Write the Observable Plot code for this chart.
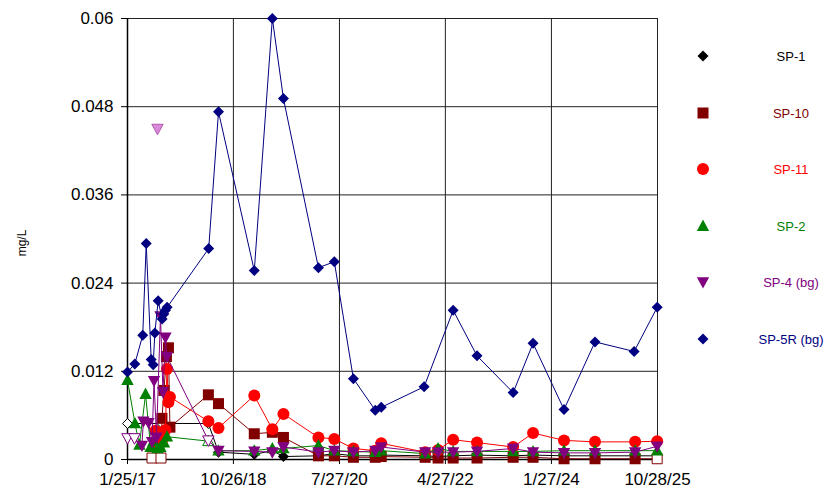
<!DOCTYPE html>
<html><head><meta charset="utf-8">
<script src="https://cdn.jsdelivr.net/npm/d3@7"></script>
<script src="https://cdn.jsdelivr.net/npm/@observablehq/plot@0.6"></script>
<style>
html,body{margin:0;padding:0;background:#fff;}
#wrap{position:relative;width:829px;height:489px;font-family:"Liberation Sans",Arial,sans-serif;overflow:hidden;}
#chart{position:absolute;left:0;top:0;}
.ylab{position:absolute;left:22px;top:243px;transform:translate(-50%,-50%) rotate(-90deg);font-size:12px;color:#000;}
.leg{position:absolute;font-size:13px;transform:translate(-50%,-50%);white-space:nowrap;}
.legm{position:absolute;width:20px;height:20px;transform:translate(-50%,-50%);}
</style></head><body>
<div id="wrap"><div id="chart"></div><div class="ylab">mg/L</div></div>
<script>
// ---------- data ----------
const seriesNames = ["SP-1","SP-10","SP-11","SP-2","SP-4 (bg)","SP-5R (bg)"];
const seriesColors = ["#000000","#800000","#FF0000","#008000","#800080","#000080"];

const xTicks = ["2017-01-25","2018-10-26","2020-07-27","2022-04-27","2024-01-27","2025-10-28"];
const yTicks = [0, 0.012, 0.024, 0.036, 0.048, 0.06];
const yTickLabels = ["0","0.012","0.024","0.036","0.048","0.06"];

const sp1Dates = ["2017-01-25","2017-08-21","2018-05-28","2018-07-28","2019-03-01","2019-06-18","2019-08-24","2020-03-22","2020-06-26","2020-10-19","2021-02-28","2021-04-05","2021-12-26","2022-03-14","2022-06-13","2022-11-04","2023-06-10","2023-10-08","2024-04-12","2024-10-16","2025-06-15","2025-10-26"];
const sp1Vals  = [0.0049,0.0049,0.0049,0.0010,0.0007,0.0012,0.0004,0.0005,0.0008,0.0005,0.0005,0.0006,0.0005,0.0004,0.0005,0.0006,0.0005,0.0006,0.0005,0.0005,0.0005,0.0005];
const sp1ND    = [1,1,1,0,0,0,0,0,0,0,0,0,0,0,0,0,0,0,0,0,0,0];

const sp10Dates = ["2017-06-22","2017-08-15","2017-08-21","2017-09-02","2017-09-17","2017-09-29","2017-10-08","2018-05-28","2018-07-28","2019-03-01","2019-06-18","2019-08-24","2020-03-22","2020-06-26","2020-10-19","2021-02-28","2021-04-05","2021-12-26","2022-03-14","2022-06-13","2022-11-04","2023-06-10","2023-10-08","2024-04-12","2024-10-16","2025-06-15","2025-10-26"];
const sp10Vals  = [0.0002,0.0002,0.0056,0.0094,0.0140,0.0152,0.0044,0.0088,0.0076,0.0035,0.0037,0.0030,0.0005,0.0005,0.0003,0.0003,0.0004,0.0003,0.0002,0.0002,0.0002,0.0003,0.0003,0.0001,0.0001,0.0001,0.0001];
const sp10ND    = [1,1,0,0,0,0,0,0,0,0,0,0,0,0,0,0,0,0,0,0,0,0,0,0,0,0,1];

const sp11Dates = ["2017-07-13","2017-07-31","2017-08-21","2017-09-11","2017-09-20","2017-09-29","2017-10-08","2018-05-28","2018-07-28","2019-03-01","2019-06-18","2019-08-24","2020-03-22","2020-06-26","2020-10-19","2021-02-28","2021-04-05","2021-12-26","2022-03-14","2022-06-13","2022-11-04","2023-06-10","2023-10-08","2024-04-12","2024-10-16","2025-06-15","2025-10-26"];
const sp11Vals  = [0.0039,0.0017,0.0026,0.0040,0.0123,0.0078,0.0085,0.0052,0.0043,0.0087,0.0041,0.0062,0.0030,0.0028,0.0015,0.0012,0.0022,0.0010,0.0013,0.0027,0.0023,0.0017,0.0036,0.0026,0.0024,0.0024,0.0025];
const sp11ND    = [0,0,0,0,0,0,0,0,0,0,0,0,0,0,0,0,0,0,0,0,0,0,0,0,0,0,0];

const sp2Dates = ["2017-01-25","2017-03-11","2017-04-07","2017-05-14","2017-06-13","2017-07-01","2017-07-25","2017-08-12","2017-09-02","2017-09-20","2018-05-28","2018-07-28","2019-03-01","2019-06-18","2019-08-24","2020-03-22","2020-06-26","2020-10-19","2021-02-28","2021-04-05","2021-12-26","2022-03-14","2022-06-13","2022-11-04","2023-06-10","2023-10-08","2024-04-12","2024-10-16","2025-06-15","2025-10-26"];
const sp2Vals  = [0.0108,0.0049,0.0020,0.0089,0.0017,0.0025,0.0015,0.0017,0.0023,0.0031,0.0025,0.0012,0.0012,0.0015,0.0015,0.0019,0.0012,0.0011,0.0010,0.0012,0.0008,0.0015,0.0011,0.0011,0.0011,0.0011,0.0012,0.0012,0.0012,0.0012];
const sp2ND    = [0,0,0,0,0,0,0,0,0,0,1,0,0,0,0,0,0,0,0,0,0,0,0,0,0,0,0,0,0,0];

const sp4Dates = ["2017-01-25","2017-03-08","2017-04-22","2017-05-01","2017-06-01","2017-06-22","2017-07-04","2017-07-19","2017-08-12","2017-08-27","2017-09-11","2017-09-20","2018-05-28","2018-07-28","2019-03-01","2019-06-18","2019-08-24","2020-03-22","2020-06-26","2020-10-19","2021-02-28","2021-04-05","2021-12-26","2022-03-14","2022-06-13","2022-11-04","2023-06-10","2023-10-08","2024-04-12","2024-10-16","2025-06-15","2025-10-26"];
const sp4Vals  = [0.0029,0.0029,0.0019,0.0052,0.0050,0.0024,0.0107,0.0030,0.0195,0.0092,0.0166,0.0140,0.0026,0.0012,0.0011,0.0010,0.0017,0.0010,0.0012,0.0010,0.0012,0.0017,0.0010,0.0010,0.0010,0.0011,0.0015,0.0010,0.0009,0.0009,0.0010,0.0018];
const sp4ND    = [1,1,0,0,0,0,0,0,0,0,0,0,1,0,0,0,0,0,0,0,0,0,0,0,0,0,0,0,0,0,0,0];
const sp4OutlierDates = ["2017-07-25"];
const sp4OutlierVals  = [0.045];

const sp5Dates = ["2017-01-25","2017-03-10","2017-04-27","2017-05-18","2017-06-17","2017-06-29","2017-07-09","2017-07-29","2017-08-22","2017-09-01","2017-09-11","2017-09-21","2018-05-30","2018-07-28","2019-03-01","2019-06-18","2019-08-24","2020-03-22","2020-06-26","2020-10-19","2021-02-28","2021-04-05","2021-12-20","2022-06-13","2022-11-04","2023-06-10","2023-10-08","2024-04-12","2024-10-16","2025-06-09","2025-10-26"];
const sp5Vals  = [0.0119,0.0130,0.0169,0.0294,0.0136,0.0129,0.0172,0.0216,0.0191,0.0198,0.0203,0.0207,0.0287,0.0473,0.0257,0.0600,0.0491,0.0261,0.0269,0.0110,0.0067,0.0071,0.0099,0.0203,0.0141,0.0091,0.0158,0.0068,0.0160,0.0147,0.0207];
const sp5ND    = sp5Vals.map(() => 0);

// ---------- symbols ----------
const rOf = size => Math.sqrt(size / Math.PI);
const symDiamond = {draw(c, s){const r=rOf(s); c.moveTo(0,-r); c.lineTo(r,0); c.lineTo(0,r); c.lineTo(-r,0); c.closePath();}};
const symSquare  = {draw(c, s){const r=rOf(s); c.moveTo(-r,-r); c.lineTo(r,-r); c.lineTo(r,r); c.lineTo(-r,r); c.closePath();}};
const symCircle  = {draw(c, s){const r=rOf(s); c.moveTo(r,0); c.arc(0,0,r,0,2*Math.PI); c.closePath();}};
const symTriUp   = {draw(c, s){const r=rOf(s); c.moveTo(0,-r); c.lineTo(r*0.95,r*0.75); c.lineTo(-r*0.95,r*0.75); c.closePath();}};
const symTriDown = {draw(c, s){const r=rOf(s); c.moveTo(0,r); c.lineTo(r*0.95,-r*0.75); c.lineTo(-r*0.95,-r*0.75); c.closePath();}};

const seriesSymbols = [symDiamond, symSquare, symCircle, symTriUp, symTriDown, symDiamond];
const seriesR = [5.5, 5.5, 6, 6.5, 6.5, 5.5];

const rawSeries = [
  [sp1Dates, sp1Vals, sp1ND],
  [sp10Dates, sp10Vals, sp10ND],
  [sp11Dates, sp11Vals, sp11ND],
  [sp2Dates, sp2Vals, sp2ND],
  [sp4Dates, sp4Vals, sp4ND],
  [sp5Dates, sp5Vals, sp5ND]
];
const series = rawSeries.map(([ds, vs, nd]) => ds.map((d, i) => ({date: new Date(d), value: vs[i], nd: !!nd[i]})));
const outlier = sp4OutlierDates.map((d, i) => ({date: new Date(d), value: sp4OutlierVals[i]}));

const xTickDates = xTicks.map(d => new Date(d));
const xDomain = [xTickDates[0], xTickDates[xTickDates.length - 1]];
const fmt = d3.utcFormat("%-m/%-d/%y");

const marks = [
  Plot.gridX(xTickDates, {stroke: "#222", strokeOpacity: 1, strokeWidth: 1}),
  Plot.gridY(yTicks, {stroke: "#222", strokeOpacity: 1, strokeWidth: 1}),
  Plot.ruleY([0], {stroke: "#000", strokeWidth: 1.5}),
  Plot.ruleX([xDomain[0]], {stroke: "#000", strokeWidth: 1.5}),
  Plot.axisY({ticks: yTicks, tickFormat: d => yTickLabels[yTicks.indexOf(d)], tickSize: 6, tickPadding: 8, fontSize: 17, label: null, stroke: "#000"}),
  Plot.axisX({ticks: xTickDates, tickFormat: fmt, tickSize: 5, tickPadding: 8, fontSize: 17, label: null, stroke: "#000"})
];
series.forEach((rows, k) => {
  const col = seriesColors[k];
  marks.push(Plot.line(rows, {x: "date", y: "value", stroke: col, strokeWidth: 1}));
  marks.push(Plot.dot(rows.filter(d => !d.nd), {x: "date", y: "value", symbol: seriesSymbols[k], r: seriesR[k], fill: col, stroke: "none"}));
  marks.push(Plot.dot(rows.filter(d => d.nd), {x: "date", y: "value", symbol: seriesSymbols[k], r: seriesR[k] - 0.5, fill: "white", stroke: col, strokeWidth: 1}));
  if (k === 4) {
    marks.push(Plot.dot(outlier, {x: "date", y: "value", symbol: symTriDown, r: 6, fill: "#d98ad9", stroke: "#b25ab2", strokeWidth: 1}));
  }
});

const chart = Plot.plot({
  width: 829, height: 489,
  marginLeft: 127, marginRight: 172, marginTop: 18, marginBottom: 30,
  style: {fontFamily: '"Liberation Sans", Arial, sans-serif', color: "#000", background: "transparent", overflow: "visible"},
  x: {type: "utc", domain: xDomain},
  y: {domain: [0, 0.06]},
  marks
});
document.getElementById("chart").appendChild(chart);

// ---------- legend ----------
const wrap = document.getElementById("wrap");
const legendY0 = 56, legendDy = 56.5;
seriesNames.forEach((name, k) => {
  const y = legendY0 + legendDy * k;
  const m = document.createElement("div");
  m.className = "legm";
  m.style.left = "703px"; m.style.top = y + "px";
  const ctx = d3.path();
  const r = seriesR[k];
  seriesSymbols[k].draw(ctx, r * r * Math.PI);
  m.innerHTML = `<svg width="20" height="20" viewBox="-10 -10 20 20"><path d="${ctx.toString()}" fill="${seriesColors[k]}"/></svg>`;
  wrap.appendChild(m);
  const t = document.createElement("div");
  t.className = "leg";
  t.style.left = "791px"; t.style.top = y + "px";
  t.style.color = seriesColors[k];
  t.textContent = name;
  wrap.appendChild(t);
});
</script>
</body></html>
